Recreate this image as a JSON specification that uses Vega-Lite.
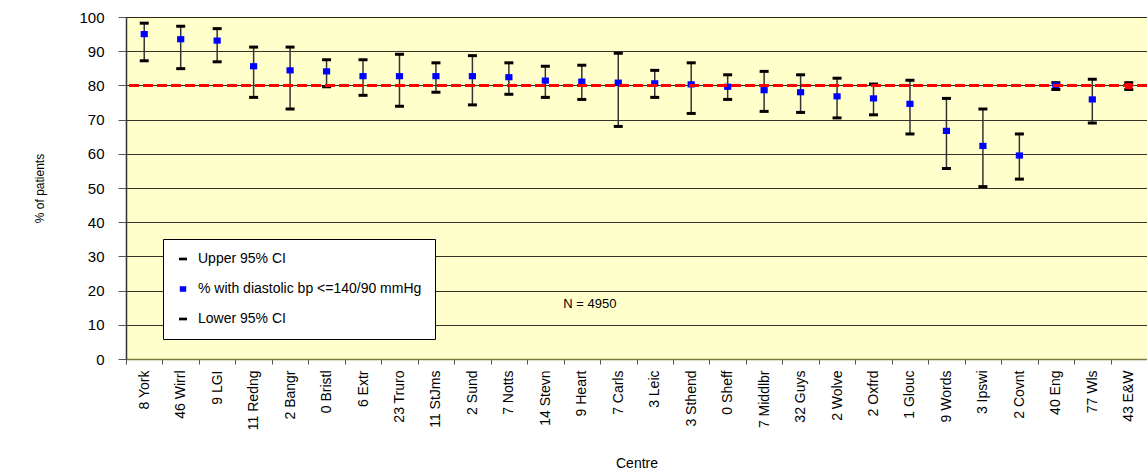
{
  "$schema": "https://vega.github.io/schema/vega-lite/v6.json",
  "width": 1021,
  "height": 342,
  "autosize": "none",
  "padding": {"left": 126, "top": 17, "right": 0, "bottom": 114},
  "background": "white",
  "config": {
    "font": "Liberation Sans",
    "view": {"fill": "#FFFFCC", "stroke": "#D4D450", "strokeWidth": 1},
    "axisX": {
      "titleFontSize": 14,
      "titleFontWeight": "normal",
      "titleColor": "black",
      "titlePadding": 27,
      "labelAngle": 270,
      "labelFontSize": 14,
      "labelColor": "black",
      "labelPadding": 6,
      "tickBand": "extent",
      "tickSize": 5,
      "tickColor": "#555555",
      "domainColor": "#7A7A3C",
      "domainWidth": 1.5,
      "grid": false
    },
    "axisY": {
      "titleFontSize": 12,
      "titleFontWeight": "normal",
      "titleColor": "black",
      "titlePadding": 32,
      "labelOverlap": false,
      "labelFontSize": 15,
      "labelColor": "black",
      "labelPadding": 14,
      "tickSize": 8,
      "tickColor": "#555555",
      "domainColor": "#333333",
      "domainWidth": 1.5,
      "grid": true,
      "gridColor": "#000000",
      "gridWidth": 1,
      "gridOpacity": 0.8
    }
  },
  "data": {
    "values": [
      {"centre": "8 York", "pct": 95.0, "upper": 98.2, "lower": 87.2},
      {"centre": "46 Wirrl", "pct": 93.5, "upper": 97.3, "lower": 84.9},
      {"centre": "9 LGI", "pct": 93.1, "upper": 96.6, "lower": 86.9},
      {"centre": "11 Redng", "pct": 85.6, "upper": 91.2, "lower": 76.5},
      {"centre": "2 Bangr", "pct": 84.4, "upper": 91.2, "lower": 73.1},
      {"centre": "0 Bristl", "pct": 84.1, "upper": 87.5, "lower": 79.6},
      {"centre": "6 Extr", "pct": 82.7, "upper": 87.5, "lower": 77.1},
      {"centre": "23 Truro", "pct": 82.7, "upper": 89.1, "lower": 73.9},
      {"centre": "11 StJms", "pct": 82.7, "upper": 86.6, "lower": 78.0},
      {"centre": "2 Sund", "pct": 82.7, "upper": 88.7, "lower": 74.3},
      {"centre": "7 Notts", "pct": 82.4, "upper": 86.6, "lower": 77.4},
      {"centre": "14 Stevn", "pct": 81.4, "upper": 85.6, "lower": 76.5},
      {"centre": "9 Heart", "pct": 81.1, "upper": 85.9, "lower": 75.9},
      {"centre": "7 Carls", "pct": 80.8, "upper": 89.4, "lower": 68.0},
      {"centre": "3 Leic", "pct": 80.6, "upper": 84.4, "lower": 76.5},
      {"centre": "3 Sthend", "pct": 80.3, "upper": 86.6, "lower": 71.8},
      {"centre": "0 Sheff", "pct": 79.6, "upper": 83.1, "lower": 75.9},
      {"centre": "7 Middlbr", "pct": 78.6, "upper": 84.1, "lower": 72.4},
      {"centre": "32 Guys", "pct": 78.0, "upper": 83.1, "lower": 72.1},
      {"centre": "2 Wolve", "pct": 76.8, "upper": 82.1, "lower": 70.5},
      {"centre": "2 Oxfrd", "pct": 76.2, "upper": 80.4, "lower": 71.4},
      {"centre": "1 Glouc", "pct": 74.6, "upper": 81.5, "lower": 65.8},
      {"centre": "9 Words", "pct": 66.7, "upper": 76.2, "lower": 55.7},
      {"centre": "3 Ipswi", "pct": 62.3, "upper": 73.1, "lower": 50.4},
      {"centre": "2 Covnt", "pct": 59.5, "upper": 65.8, "lower": 52.6},
      {"centre": "40 Eng", "pct": 80.0, "upper": 80.8, "lower": 78.8},
      {"centre": "77 Wls", "pct": 75.9, "upper": 81.8, "lower": 69.0},
      {"centre": "43 E&W", "pct": 79.8, "upper": 80.8, "lower": 78.8}
    ]
  },
  "layer": [
    {
      "mark": {"type": "rule", "color": "#333333", "strokeWidth": 1.5},
      "encoding": {
        "x": {
          "field": "centre",
          "type": "nominal",
          "sort": null,
          "scale": {"paddingInner": 0, "paddingOuter": 0},
          "axis": {"title": "Centre"}
        },
        "y": {
          "field": "lower",
          "type": "quantitative",
          "scale": {"domain": [0, 100], "nice": false},
          "axis": {"title": "% of patients", "values": [0, 10, 20, 30, 40, 50, 60, 70, 80, 90, 100]}
        },
        "y2": {"field": "upper"}
      }
    },
    {
      "transform": [{"fold": ["upper", "pct", "lower"], "as": ["series", "value"]}],
      "mark": {"type": "point", "filled": true, "size": 100, "strokeWidth": 0, "opacity": 1},
      "encoding": {
        "x": {"field": "centre", "type": "nominal", "sort": null, "axis": {"title": "Centre"}},
        "y": {"field": "value", "type": "quantitative", "axis": {"title": "% of patients", "values": [0, 10, 20, 30, 40, 50, 60, 70, 80, 90, 100]}},
        "color": {
          "field": "series",
          "type": "nominal",
          "scale": {"domain": ["upper", "pct", "lower"], "range": ["#000000", "#0000FF", "#000000"]},
          "legend": {
            "title": null,
            "orient": "none",
            "legendX": 37,
            "legendY": 222,
            "fillColor": "white",
            "strokeColor": "black",
            "padding": 13,
            "rowPadding": 16,
            "labelFontSize": 14,
            "labelColor": "black",
            "labelOffset": 8,
            "labelLimit": 500,
            "symbolSize": 80,
            "symbolStrokeWidth": 0,
            "labelExpr": "datum.label == 'upper' ? 'Upper 95% CI' : datum.label == 'pct' ? '% with diastolic bp <=140/90 mmHg' : 'Lower 95% CI'"
          }
        },
        "shape": {
          "field": "series",
          "type": "nominal",
          "scale": {
            "domain": ["upper", "pct", "lower"],
            "range": ["M-0.9,-0.3H0.9V0.3H-0.9Z", "M-0.72,-0.62H0.72V0.62H-0.72Z", "M-0.9,-0.3H0.9V0.3H-0.9Z"]
          },
          "legend": {
            "title": null,
            "orient": "none",
            "legendX": 37,
            "legendY": 222,
            "fillColor": "white",
            "strokeColor": "black",
            "padding": 13,
            "rowPadding": 16,
            "labelFontSize": 14,
            "labelColor": "black",
            "labelOffset": 8,
            "labelLimit": 500,
            "symbolSize": 80,
            "symbolStrokeWidth": 0,
            "labelExpr": "datum.label == 'upper' ? 'Upper 95% CI' : datum.label == 'pct' ? '% with diastolic bp <=140/90 mmHg' : 'Lower 95% CI'"
          }
        }
      }
    },
    {
      "transform": [{"filter": "datum.centre == '43 E&W'"}],
      "mark": {"type": "point", "filled": true, "size": 100, "strokeWidth": 0, "opacity": 1, "color": "#FF0000", "shape": "M-0.72,-0.62H0.72V0.62H-0.72Z"},
      "encoding": {
        "x": {"field": "centre", "type": "nominal", "sort": null, "axis": {"title": "Centre"}},
        "y": {"field": "pct", "type": "quantitative", "axis": {"title": "% of patients", "values": [0, 10, 20, 30, 40, 50, 60, 70, 80, 90, 100]}}
      }
    },
    {
      "mark": {"type": "rule", "color": "#FF0000", "strokeWidth": 2, "strokeDash": [10, 4]},
      "encoding": {"y": {"datum": 80, "axis": {"title": "% of patients", "values": [0, 10, 20, 30, 40, 50, 60, 70, 80, 90, 100]}}}
    },
    {
      "data": {"values": [{"label": "N = 4950"}]},
      "mark": {"type": "text", "fontSize": 13, "color": "black", "align": "center", "baseline": "middle", "dx": 8},
      "encoding": {
        "x": {"datum": "9 Heart", "axis": {"title": "Centre"}},
        "y": {"datum": 16, "axis": {"title": "% of patients", "values": [0, 10, 20, 30, 40, 50, 60, 70, 80, 90, 100]}},
        "text": {"field": "label"}
      }
    }
  ]
}
